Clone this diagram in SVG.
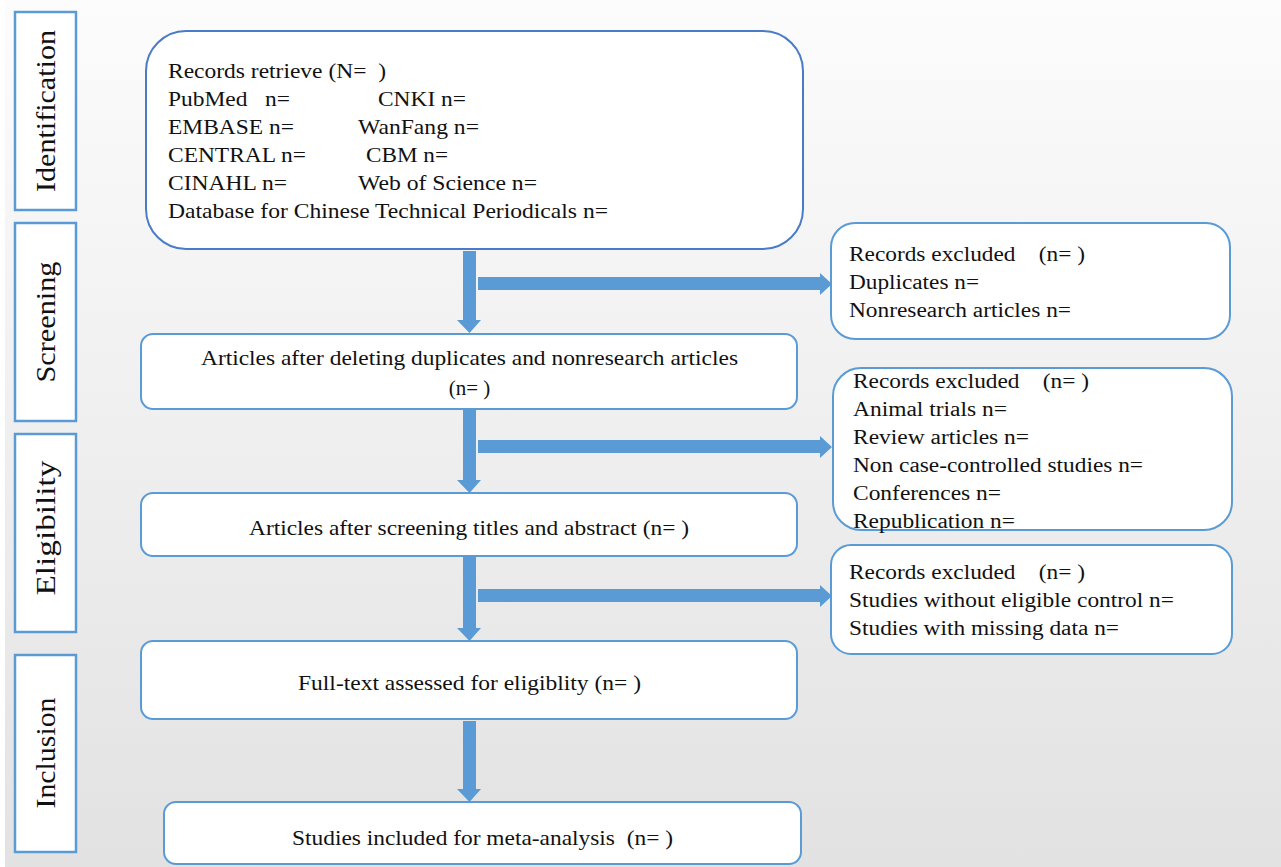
<svg xmlns="http://www.w3.org/2000/svg" width="1281" height="867" viewBox="0 0 1281 867">
<defs>
<linearGradient id="bg" x1="0" y1="0" x2="0" y2="1">
<stop offset="0" stop-color="#fcfcfc"/>
<stop offset="1" stop-color="#e2e2e2"/>
</linearGradient>
<style>
.side{fill:#fff;stroke:#5b9bd5;stroke-width:2.5}
.box{fill:#fff;stroke:#5b9bd5;stroke-width:2}
.main{fill:#fff;stroke:#4a7bc8;stroke-width:2}
.t{font-family:"Liberation Serif","Times New Roman",serif;font-size:21px;fill:#111}
.r{font-family:"Liberation Serif","Times New Roman",serif;font-size:20px;fill:#111}
.lab{font-family:"Liberation Serif","Times New Roman",serif;font-size:27px;fill:#111}
.arr{fill:#5b9bd5}
</style>
</defs>
<rect x="0" y="0" width="1281" height="867" fill="url(#bg)"/>
<rect x="0" y="0" width="5" height="867" fill="#fff"/>

<g id="phase-identification">
<rect class="side" x="15" y="12" width="61" height="198"/>
<text class="lab" transform="translate(55,111) rotate(-90)" text-anchor="middle" textLength="162" lengthAdjust="spacingAndGlyphs">Identification</text>
</g>
<g id="phase-screening">
<rect class="side" x="15" y="223" width="61" height="198"/>
<text class="lab" transform="translate(55,322) rotate(-90)" text-anchor="middle" textLength="121" lengthAdjust="spacingAndGlyphs">Screening</text>
</g>
<g id="phase-eligibility">
<rect class="side" x="15" y="434" width="61" height="198"/>
<text class="lab" transform="translate(55,528) rotate(-90)" text-anchor="middle" textLength="135" lengthAdjust="spacingAndGlyphs">Eligibility</text>
</g>
<g id="phase-inclusion">
<rect class="side" x="15" y="655" width="61" height="197"/>
<text class="lab" transform="translate(55,753) rotate(-90)" text-anchor="middle" textLength="111" lengthAdjust="spacingAndGlyphs">Inclusion</text>
</g>

<g id="connectors">
<path class="arr" d="M463,251 H476 V320 H481 L469.5,333 L457,320 H463 Z"/>
<path class="arr" d="M478,277 H820 V273 L832,284 L820,295 V290 H478 Z"/>
<path class="arr" d="M463,410 H476 V480 H481 L469.5,493 L457,480 H463 Z"/>
<path class="arr" d="M478,440 H820 V436 L832,447 L820,458 V453 H478 Z"/>
<path class="arr" d="M463,557 H476 V628 H481 L469.5,641 L457,628 H463 Z"/>
<path class="arr" d="M478,589 H820 V585 L832,596 L820,607 V602 H478 Z"/>
<path class="arr" d="M463,721 H476 V789 H481 L469.5,802 L457,789 H463 Z"/>
</g>

<g id="records-retrieved">
<rect class="main" x="146" y="31" width="657" height="218" rx="40"/>
<text class="t" x="168" y="78" textLength="218" lengthAdjust="spacingAndGlyphs" xml:space="preserve">Records retrieve (N=  )</text>
<text class="t" x="168" y="106" textLength="122" lengthAdjust="spacingAndGlyphs" xml:space="preserve">PubMed   n=</text>
<text class="t" x="378" y="106" textLength="88" lengthAdjust="spacingAndGlyphs">CNKI n=</text>
<text class="t" x="168" y="134" textLength="126" lengthAdjust="spacingAndGlyphs">EMBASE n=</text>
<text class="t" x="358" y="134" textLength="121" lengthAdjust="spacingAndGlyphs">WanFang n=</text>
<text class="t" x="168" y="162" textLength="138" lengthAdjust="spacingAndGlyphs">CENTRAL n=</text>
<text class="t" x="366" y="162" textLength="82" lengthAdjust="spacingAndGlyphs">CBM n=</text>
<text class="t" x="168" y="190" textLength="119" lengthAdjust="spacingAndGlyphs">CINAHL n=</text>
<text class="t" x="358" y="190" textLength="179" lengthAdjust="spacingAndGlyphs">Web of Science n=</text>
<text class="t" x="168" y="218" textLength="440" lengthAdjust="spacingAndGlyphs">Database for Chinese Technical Periodicals n=</text>
</g>

<g id="after-duplicates">
<rect class="box" x="141" y="334" width="656" height="75" rx="12"/>
<text class="t" x="469.5" y="365" text-anchor="middle" textLength="537" lengthAdjust="spacingAndGlyphs">Articles after deleting duplicates and nonresearch articles</text>
<text class="t" x="469.5" y="395" text-anchor="middle">(n= )</text>
</g>

<g id="after-screening">
<rect class="box" x="141" y="493" width="656" height="63" rx="12"/>
<text class="t" x="469" y="535" text-anchor="middle" textLength="440" lengthAdjust="spacingAndGlyphs">Articles after screening titles and abstract (n= )</text>
</g>

<g id="full-text">
<rect class="box" x="141" y="641" width="656" height="78" rx="12"/>
<text class="t" x="469.5" y="690" text-anchor="middle" textLength="343" lengthAdjust="spacingAndGlyphs">Full-text assessed for eligiblity (n= )</text>
</g>

<g id="included">
<rect class="box" x="164" y="802" width="637" height="62" rx="12"/>
<text class="t" x="482.5" y="845" text-anchor="middle" textLength="381" lengthAdjust="spacingAndGlyphs" xml:space="preserve">Studies included for meta-analysis  (n= )</text>
</g>

<g id="excluded-1">
<rect class="box" x="831" y="223" width="399" height="116" rx="24"/>
<text class="r" x="849" y="261" xml:space="preserve" textLength="236" lengthAdjust="spacingAndGlyphs">Records excluded    (n= )</text>
<text class="r" x="849" y="289" textLength="130" lengthAdjust="spacingAndGlyphs">Duplicates n=</text>
<text class="r" x="849" y="317" textLength="222" lengthAdjust="spacingAndGlyphs">Nonresearch articles n=</text>
</g>

<g id="excluded-2">
<rect class="box" x="833" y="368" width="399" height="162" rx="28"/>
<text class="r" x="853" y="388" xml:space="preserve" textLength="236" lengthAdjust="spacingAndGlyphs">Records excluded    (n= )</text>
<text class="r" x="853" y="416" textLength="154" lengthAdjust="spacingAndGlyphs">Animal trials n=</text>
<text class="r" x="853" y="444" textLength="176" lengthAdjust="spacingAndGlyphs">Review articles n=</text>
<text class="r" x="853" y="472" textLength="290" lengthAdjust="spacingAndGlyphs">Non case-controlled studies n=</text>
<text class="r" x="853" y="500" textLength="148" lengthAdjust="spacingAndGlyphs">Conferences n=</text>
<text class="r" x="853" y="528" textLength="162" lengthAdjust="spacingAndGlyphs">Republication n=</text>
</g>

<g id="excluded-3">
<rect class="box" x="831" y="545" width="401" height="109" rx="20"/>
<text class="r" x="849" y="579" xml:space="preserve" textLength="236" lengthAdjust="spacingAndGlyphs">Records excluded    (n= )</text>
<text class="r" x="849" y="607" textLength="325" lengthAdjust="spacingAndGlyphs">Studies without eligible control n=</text>
<text class="r" x="849" y="635" textLength="270" lengthAdjust="spacingAndGlyphs">Studies with missing data n=</text>
</g>
</svg>
